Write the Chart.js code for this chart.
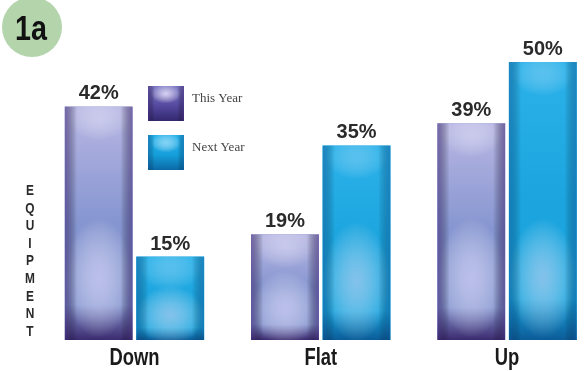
<!DOCTYPE html>
<html>
<head>
<meta charset="utf-8">
<script src="https://cdn.jsdelivr.net/npm/chart.js@4.4.1/dist/chart.umd.min.js"></script>
<style>
  html, body { margin: 0; padding: 0; background: #ffffff; overflow: hidden; }
  #wrap { position: relative; width: 584px; height: 371px; overflow: hidden; }
  canvas { position: absolute; left: 0; top: 0; }
</style>
</head>
<body>
<div id="wrap"><canvas id="c" width="620" height="371"></canvas></div>
<script>
const categories = ["Down", "Flat", "Up"];
const seriesNames = ["This Year", "Next Year"];
const thisYear = [42, 19, 39];
const nextYear = [15, 35, 50];
const badgeText = "1a";
const sideTitle = "EQUIPMENT";

const SANS = "'Liberation Sans', Arial, sans-serif";

const palettes = [
  { top: '#b9b7e3', mid: '#8595d0', bot: '#3b2a6e', edge: 'rgba(70,45,130,0.6)', glow: 'rgba(205,205,245,0.75)', hi: 'rgba(225,225,250,0.5)',
    lTop: '#7c78c4', lMid: '#554aa0', lBot: '#33286e', lGlow: 'rgba(225,220,250,0.9)' },
  { top: '#2cb2ea', mid: '#1ba4de', bot: '#0b5c98', edge: 'rgba(10,80,150,0.45)', glow: 'rgba(175,205,240,0.7)', hi: 'rgba(160,215,245,0.4)',
    lTop: '#26b2ec', lMid: '#15a0dc', lBot: '#0b6aa6', lGlow: 'rgba(150,220,250,0.8)' }
];

function narrowText(ctx, txt, x, y, font, sx, align) {
  ctx.save();
  ctx.font = font;
  ctx.textAlign = align || 'center';
  ctx.translate(x, y);
  ctx.scale(sx, 1);
  ctx.fillText(txt, 0, 0);
  ctx.restore();
}

function ellipseGlow(ctx, cx, cy, rx, ry, color) {
  ctx.save();
  ctx.translate(cx, cy);
  ctx.scale(1, ry / rx);
  const rg = ctx.createRadialGradient(0, 0, 0, 0, 0, rx);
  rg.addColorStop(0, color);
  rg.addColorStop(1, 'rgba(255,255,255,0)');
  ctx.fillStyle = rg;
  ctx.fillRect(-rx, -rx, rx * 2, rx * 2);
  ctx.restore();
}

function paintBar(ctx, x0, y0, w, h, p, legend) {
  ctx.save();
  ctx.beginPath();
  ctx.rect(x0, y0, w, h);
  ctx.clip();
  const g = ctx.createLinearGradient(0, y0, 0, y0 + h);
  if (legend) {
    g.addColorStop(0, p.lTop);
    g.addColorStop(0.55, p.lMid);
    g.addColorStop(1, p.lBot);
  } else {
    g.addColorStop(0, p.top);
    g.addColorStop(0.5, p.mid);
    g.addColorStop(0.85, p.mid);
    g.addColorStop(1, p.bot);
  }
  ctx.fillStyle = g;
  ctx.fillRect(x0, y0, w, h);
  if (legend) {
    ellipseGlow(ctx, x0 + w / 2, y0 + h * 0.22, w * 0.42, h * 0.28, p.lGlow);
  } else {
    const gy = y0 + h - Math.min(h * 0.3, 62);
    ellipseGlow(ctx, x0 + w / 2, gy, w * 0.5, Math.min(h * 0.35, 60), p.glow);
    ellipseGlow(ctx, x0 + w / 2, y0 + 12, w * 0.45, 22, p.hi);
  }
  const hg = ctx.createLinearGradient(x0, 0, x0 + w, 0);
  hg.addColorStop(0, p.edge);
  hg.addColorStop(0.18, 'rgba(0,0,0,0)');
  hg.addColorStop(0.82, 'rgba(0,0,0,0)');
  hg.addColorStop(1, p.edge);
  ctx.fillStyle = hg;
  ctx.fillRect(x0, y0, w, h);
  ctx.restore();
}

const decor = {
  id: 'decor',
  afterDatasetsDraw(chart) {
    const ctx = chart.ctx;
    chart.data.datasets.forEach((ds, di) => {
      const meta = chart.getDatasetMeta(di);
      meta.data.forEach((bar, i) => {
        const w = bar.width;
        const x0 = bar.x - w / 2;
        const y0 = bar.y;
        const h = bar.base - bar.y;
        paintBar(ctx, x0, y0, w, h, palettes[di], false);
        ctx.fillStyle = '#2a2a2a';
        narrowText(ctx, ds.data[i] + '%', bar.x, y0 - 7, "bold 21px " + SANS, 0.95);
      });
    });
    const xs = chart.scales.x;
    ctx.fillStyle = '#1a1a1a';
    categories.forEach((c, i) => {
      narrowText(ctx, c, xs.getPixelForValue(i), 365, "bold 23px " + SANS, 0.8);
    });
    seriesNames.forEach((n, i) => {
      const bx = 148, by = 86 + i * 49;
      paintBar(ctx, bx, by, 36, 35, palettes[i], true);
      ctx.save();
      ctx.fillStyle = '#444444';
      ctx.font = "13px 'Liberation Serif', 'DejaVu Serif', serif";
      ctx.textAlign = 'left';
      ctx.textBaseline = 'middle';
      ctx.fillText(n, 192, by + 13);
      ctx.restore();
    });
    ctx.save();
    ctx.beginPath();
    ctx.arc(32, 27, 30, 0, Math.PI * 2);
    ctx.fillStyle = '#b4d4ac';
    ctx.fill();
    ctx.restore();
    ctx.fillStyle = '#111111';
    narrowText(ctx, badgeText, 31, 40, "bold 35px " + SANS, 0.82);
    ctx.fillStyle = '#2a2a2a';
    sideTitle.split('').forEach((ch, i) => {
      narrowText(ctx, ch, 30, 195 + i * 17.6, "bold 14px " + SANS, 0.85);
    });
  }
};

new Chart(document.getElementById('c'), {
  type: 'bar',
  data: {
    labels: categories,
    datasets: [
      { label: seriesNames[0], data: thisYear, backgroundColor: '#8595d0', borderWidth: 0 },
      { label: seriesNames[1], data: nextYear, backgroundColor: '#1ba4de', borderWidth: 0 }
    ]
  },
  options: {
    responsive: false,
    animation: false,
    events: [],
    layout: { padding: { left: 41.3, right: 19.8, top: 6.4, bottom: 31 } },
    datasets: { bar: { categoryPercentage: 0.768, barPercentage: 0.95 } },
    plugins: { legend: { display: false }, tooltip: { enabled: false } },
    scales: {
      x: { display: false },
      y: { display: false, min: 0, max: 60 }
    }
  },
  plugins: [decor]
});
</script>
</body>
</html>
